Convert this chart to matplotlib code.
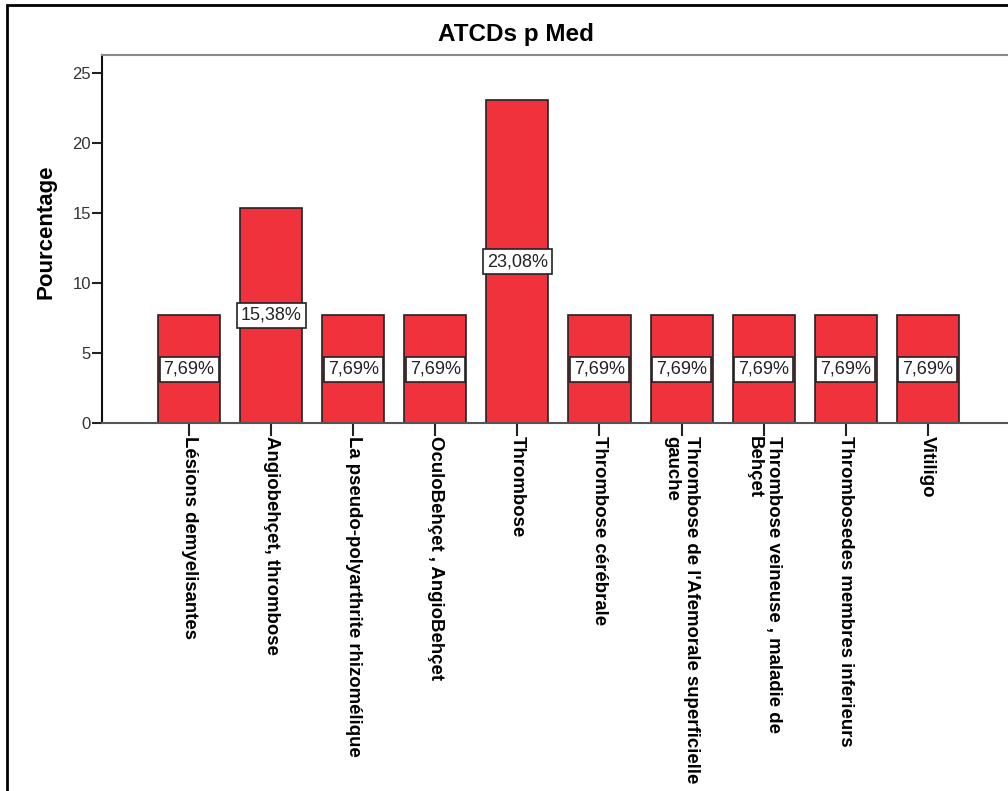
import numpy as np
import matplotlib
matplotlib.use("Agg")
import matplotlib.pyplot as plt
from matplotlib.patches import Rectangle

plt.rcParams['font.family'] = ['Liberation Sans', 'DejaVu Sans']

# Antecedents (percentages)
categories = [
    "Lésions demyelisantes",
    "Angiobehçet, thrombose",
    "La pseudo-polyarthrite rhizomélique",
    "OculoBehçet , AngioBehçet",
    "Thrombose",
    "Thrombose cérébrale",
    "Thrombose de l'Afemorale superficielle\ngauche",
    "Thrombose veineuse , maladie de\nBehçet",
    "Thrombosedes membres inferieurs",
    "Vitiligo",
]
percent = [7.69, 15.38, 7.69, 7.69, 23.08, 7.69, 7.69, 7.69, 7.69, 7.69]
yticks = [0, 5, 10, 15, 20, 25]

W, H = 1008, 791
fig = plt.figure(figsize=(W / 100, H / 100), dpi=100)
ax = fig.add_axes([102 / W, 1 - 423 / H, 1 - 102 / W + 0.01, (423 - 55) / H])

x = np.arange(len(categories))
bars = ax.bar(x, percent, width=0.756, color='#EF323C', edgecolor='#222222',
              linewidth=1.2, zorder=2)

labels = [f"{v:.2f}%".replace('.', ',') for v in percent]
ax.bar_label(bars, labels=labels, label_type='center', fontsize=13,
             color='#222222',
             bbox=dict(boxstyle='square,pad=0.22', fc='white', ec='#222222', lw=1.2))

ax.set_xlim(-1.061, 10.1)
ax.set_ylim(0, 26.3)
ax.set_yticks(yticks)
ax.set_xticks(x)
ax.set_xticklabels(categories, rotation=-90, ha='center', va='top',
                   fontsize=13.4, fontweight='bold', color='black')
for lbl in ax.get_xticklabels():
    lbl.set_multialignment('left')
ax.tick_params(axis='x', length=9, width=1.5, color='#222222', pad=0)
ax.tick_params(axis='y', length=7, width=1.5, color='#222222', labelsize=12,
               labelcolor='#333333', pad=1)

ax.spines['right'].set_visible(False)
ax.spines['left'].set_color('#111111')
ax.spines['left'].set_linewidth(1.5)
ax.spines['bottom'].set_color('#555555')
ax.spines['bottom'].set_linewidth(1.5)
ax.spines['top'].set_color('#888888')
ax.spines['top'].set_linewidth(1.5)

ax.set_ylabel('Pourcentage', fontsize=16, fontweight='bold')
ax.yaxis.set_label_coords(-0.050, 0.52)
fig.text(516 / W, 1 - 35 / H, 'ATCDs p Med', ha='center', va='center',
         fontsize=17.5, fontweight='bold')

# outer frame
fig.add_artist(Rectangle((7 / W, -0.05), 1.2, 1 - 5 / H + 0.05,
                         transform=fig.transFigure, fill=False,
                         edgecolor='black', linewidth=2))

fig.savefig('out.png', dpi=100)
